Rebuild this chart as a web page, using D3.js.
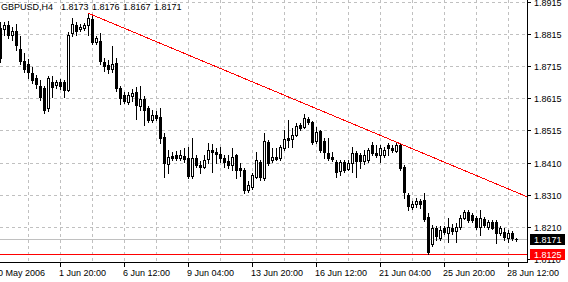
<!DOCTYPE html>
<html lang="en">
<head>
<meta charset="UTF-8">
<title>GBPUSD,H4</title>
<script src="https://cdn.jsdelivr.net/npm/d3@7"></script>
<style>
  body { margin: 0; background: #fff; }
  svg { display: block; font-family: "Liberation Sans", Arial, sans-serif; font-size: 9px; }
</style>
</head>
<body>
<div id="chart"></div>
<script>
// GBPUSD H4 bars, oldest first
const opens = [1.8834,1.8831,1.8843,1.8811,1.8824,1.8768,1.8730,1.8721,1.8693,1.8677,
  1.8652,1.8646,1.8583,1.8665,1.8655,1.8665,1.8665,1.8639,1.8818,1.8843,
  1.8831,1.8834,1.8843,1.8862,1.8790,1.8793,1.8727,1.8718,1.8705,1.8724,
  1.8646,1.8624,1.8602,1.8621,1.8633,1.8589,1.8611,1.8583,1.8545,1.8561,
  1.8555,1.8492,1.8408,1.8433,1.8436,1.8426,1.8433,1.8426,1.8370,1.8426,
  1.8404,1.8398,1.8423,1.8451,1.8445,1.8439,1.8426,1.8417,1.8404,1.8436,
  1.8395,1.8389,1.8326,1.8336,1.8367,1.8414,1.8364,1.8476,1.8420,1.8430,
  1.8426,1.8458,1.8489,1.8486,1.8498,1.8530,1.8523,1.8548,1.8539,1.8480,
  1.8511,1.8480,1.8442,1.8430,1.8414,1.8386,1.8414,1.8392,1.8411,1.8442,
  1.8436,1.8417,1.8420,1.8467,1.8442,1.8436,1.8436,1.8467,1.8458,1.8448,
  1.8467,1.8398,1.8311,1.8273,1.8282,1.8292,1.8295,1.8242,1.8157,1.8207,
  1.8176,1.8207,1.8191,1.8207,1.8198,1.8210,1.8238,1.8257,1.8248,1.8238,
  1.8210,1.8235,1.8210,1.8226,1.8226,1.8191,1.8195,1.8176,1.8191,1.8173]
const highs = [1.8853,1.8853,1.8856,1.8837,1.8846,1.8808,1.8755,1.8736,1.8711,1.8686,
  1.8671,1.8652,1.8683,1.8683,1.8671,1.8674,1.8671,1.8821,1.8865,1.8853,
  1.8846,1.8849,1.8880,1.8874,1.8808,1.8818,1.8740,1.8733,1.8777,1.8740,
  1.8652,1.8633,1.8633,1.8643,1.8649,1.8652,1.8621,1.8589,1.8577,1.8574,
  1.8583,1.8505,1.8451,1.8445,1.8448,1.8451,1.8458,1.8461,1.8489,1.8436,
  1.8417,1.8436,1.8474,1.8470,1.8458,1.8461,1.8436,1.8436,1.8458,1.8439,
  1.8411,1.8395,1.8354,1.8380,1.8445,1.8420,1.8505,1.8483,1.8458,1.8458,
  1.8467,1.8514,1.8545,1.8520,1.8536,1.8536,1.8564,1.8555,1.8542,1.8523,
  1.8514,1.8489,1.8489,1.8445,1.8420,1.8420,1.8420,1.8420,1.8461,1.8448,
  1.8442,1.8451,1.8458,1.8476,1.8467,1.8467,1.8461,1.8474,1.8467,1.8474,
  1.8474,1.8404,1.8317,1.8292,1.8301,1.8298,1.8317,1.8254,1.8216,1.8213,
  1.8213,1.8213,1.8238,1.8220,1.8223,1.8248,1.8263,1.8263,1.8254,1.8245,
  1.8263,1.8242,1.8232,1.8232,1.8232,1.8213,1.8207,1.8201,1.8198,1.8176]
const lows = [1.8727,1.8811,1.8802,1.8796,1.8765,1.8721,1.8696,1.8677,1.8662,1.8646,
  1.8608,1.8568,1.8574,1.8617,1.8646,1.8643,1.8617,1.8636,1.8808,1.8811,
  1.8824,1.8827,1.8811,1.8783,1.8783,1.8721,1.8699,1.8693,1.8696,1.8636,
  1.8595,1.8599,1.8595,1.8605,1.8548,1.8577,1.8530,1.8539,1.8539,1.8545,
  1.8474,1.8367,1.8380,1.8420,1.8420,1.8420,1.8414,1.8364,1.8364,1.8398,
  1.8380,1.8395,1.8411,1.8383,1.8411,1.8414,1.8398,1.8395,1.8389,1.8364,
  1.8370,1.8317,1.8320,1.8329,1.8364,1.8357,1.8357,1.8404,1.8414,1.8420,
  1.8420,1.8451,1.8461,1.8461,1.8495,1.8514,1.8520,1.8533,1.8470,1.8474,
  1.8445,1.8426,1.8420,1.8417,1.8367,1.8373,1.8383,1.8389,1.8383,1.8367,
  1.8395,1.8408,1.8414,1.8436,1.8430,1.8414,1.8430,1.8436,1.8445,1.8445,
  1.8389,1.8301,1.8263,1.8267,1.8273,1.8270,1.8229,1.8125,1.8151,1.8169,
  1.8169,1.8188,1.8163,1.8188,1.8163,1.8204,1.8235,1.8226,1.8226,1.8204,
  1.8185,1.8210,1.8204,1.8204,1.8160,1.8185,1.8169,1.8163,1.8169,1.8167]
const closes = [1.8740,1.8843,1.8811,1.8824,1.8780,1.8730,1.8705,1.8696,1.8671,1.8658,
  1.8617,1.8577,1.8677,1.8649,1.8665,1.8652,1.8639,1.8811,1.8846,1.8824,
  1.8837,1.8843,1.8865,1.8790,1.8802,1.8730,1.8715,1.8705,1.8721,1.8646,
  1.8614,1.8605,1.8624,1.8630,1.8592,1.8611,1.8577,1.8545,1.8561,1.8552,
  1.8489,1.8411,1.8430,1.8426,1.8426,1.8436,1.8423,1.8370,1.8426,1.8404,
  1.8398,1.8420,1.8451,1.8445,1.8439,1.8426,1.8414,1.8404,1.8430,1.8389,
  1.8389,1.8326,1.8342,1.8373,1.8420,1.8367,1.8480,1.8411,1.8430,1.8423,
  1.8461,1.8486,1.8483,1.8498,1.8527,1.8520,1.8552,1.8539,1.8476,1.8508,
  1.8451,1.8445,1.8426,1.8423,1.8383,1.8414,1.8389,1.8411,1.8442,1.8417,
  1.8417,1.8436,1.8451,1.8442,1.8436,1.8458,1.8451,1.8458,1.8451,1.8467,
  1.8395,1.8320,1.8276,1.8282,1.8292,1.8282,1.8235,1.8132,1.8207,1.8182,
  1.8201,1.8195,1.8210,1.8198,1.8210,1.8238,1.8257,1.8232,1.8232,1.8210,
  1.8238,1.8216,1.8226,1.8207,1.8191,1.8207,1.8179,1.8191,1.8176,1.8171]

const priceTicks = ["1.8915","1.8815","1.8715","1.8615","1.8515","1.8410","1.8310","1.8210","1.8110"]
const timeTickBars = [-1, 15, 31, 47, 63, 79, 95, 111, 127]
const timeTickLabels = ["30 May 2006","1 Jun 20:00","6 Jun 12:00","9 Jun 04:00","13 Jun 20:00",
  "16 Jun 12:00","21 Jun 04:00","25 Jun 20:00","28 Jun 12:00"]
const gridBars = d3.range(7, 130, 8)

const symbol = "GBPUSD,H4"
const lastBar = ["1.8173","1.8176","1.8167","1.8171"]
const bidPrice = 1.8171
const hLinePrice = 1.8125
// trend line anchors: [bar, price]
const trendA = [22, 1.8880]
const trendB = [100, 1.8471]

const w = 568
const h = 282
const plotW = 527
const plotH = 262

const svg = d3.select("#chart").append("svg")
  .attr("width", w).attr("height", h)
  .attr("shape-rendering", "crispEdges")

const xScale = d3.scaleLinear().domain([0, plotW / 4]).range([0, plotW])
const yScale = d3.scaleLinear().domain([1.8100, 1.8921]).range([plotH, 0])
const py = v => Math.round(yScale(v))

// grid
const grid = svg.append("g").attr("stroke", "#c0c0c0").attr("stroke-dasharray", "3,3")
grid.selectAll("line.v").data(gridBars).enter().append("line")
  .attr("x1", d => xScale(d) + 0.5).attr("x2", d => xScale(d) + 0.5)
  .attr("y1", 0).attr("y2", plotH)
grid.selectAll("line.h").data(priceTicks.slice(0, 8)).enter().append("line")
  .attr("x1", 0).attr("x2", plotW)
  .attr("y1", d => py(+d) + 0.5).attr("y2", d => py(+d) + 0.5)

// bid line
svg.append("line").attr("x1", 0).attr("x2", plotW)
  .attr("y1", py(bidPrice) + 0.5).attr("y2", py(bidPrice) + 0.5)
  .attr("stroke", "#c0c0c0")

// horizontal line object
svg.append("line").attr("x1", 0).attr("x2", plotW)
  .attr("y1", py(hLinePrice) + 0.5).attr("y2", py(hLinePrice) + 0.5)
  .attr("stroke", "#ff0000")

// candles
const bars = d3.range(opens.length)
const cg = svg.append("g")
cg.selectAll("line.wick").data(bars).enter().append("line")
  .attr("x1", i => xScale(i) + 0.5).attr("x2", i => xScale(i) + 0.5)
  .attr("y1", i => py(highs[i])).attr("y2", i => py(lows[i]) + 1)
  .attr("stroke", "#000")
cg.selectAll("rect.body").data(bars).enter().append("rect")
  .attr("x", i => closes[i] >= opens[i] ? xScale(i) - 0.5 : xScale(i) - 1)
  .attr("y", i => closes[i] >= opens[i] ? py(closes[i]) + 0.5 : py(opens[i]))
  .attr("width", i => closes[i] >= opens[i] ? 2 : 3)
  .attr("height", i => {
    const hh = Math.abs(py(closes[i]) - py(opens[i]))
    return closes[i] >= opens[i] ? Math.max(hh, 0) : hh + 1
  })
  .attr("fill", i => closes[i] >= opens[i] ? "#fff" : "#000")
  .attr("stroke", i => closes[i] >= opens[i] ? "#000" : "none")

// trend line (ray to the right edge)
const slope = (trendB[1] - trendA[1]) / (trendB[0] - trendA[0])
const endBar = plotW / 4
svg.append("line")
  .attr("x1", xScale(trendA[0])).attr("y1", yScale(trendA[1]))
  .attr("x2", xScale(endBar)).attr("y2", yScale(trendA[1] + slope * (endBar - trendA[0])))
  .attr("stroke", "#ff0000")

// axes
svg.append("line").attr("x1", plotW + 0.5).attr("x2", plotW + 0.5).attr("y1", 0).attr("y2", plotH + 1).attr("stroke", "#000")
svg.append("line").attr("x1", 0).attr("x2", plotW + 1).attr("y1", plotH + 0.5).attr("y2", plotH + 0.5).attr("stroke", "#000")

const yAx = svg.append("g")
yAx.selectAll("line").data(priceTicks).enter().append("line")
  .attr("x1", plotW).attr("x2", plotW + 4)
  .attr("y1", d => py(+d) + 0.5).attr("y2", d => py(+d) + 0.5)
  .attr("stroke", "#000")
yAx.selectAll("text").data(priceTicks).enter().append("text")
  .attr("x", plotW + 7).attr("y", d => py(+d) + 3.5)
  .attr("fill", "#000").text(d => d)

const xAx = svg.append("g")
xAx.selectAll("line").data(timeTickBars).enter().append("line")
  .attr("x1", d => xScale(d) + 0.5).attr("x2", d => xScale(d) + 0.5)
  .attr("y1", plotH).attr("y2", plotH + 5)
  .attr("stroke", "#000")
xAx.selectAll("text").data(timeTickBars).enter().append("text")
  .attr("x", (d, i) => i === 0 ? xScale(d) - 3 : xScale(d) - 1)
  .attr("y", 276)
  .attr("fill", "#000")
  .text((d, i) => timeTickLabels[i])

// price label boxes
function priceBox(price, bg) {
  const yc = yScale(price)
  svg.append("rect").attr("x", plotW + 3).attr("y", Math.round(yc) - 5)
    .attr("width", 35).attr("height", 11).attr("fill", bg)
  svg.append("text").attr("x", plotW + 7).attr("y", Math.round(yc) + 3.5)
    .attr("fill", "#fff").text(price.toFixed(4))
}
priceBox(bidPrice, "#000")
priceBox(hLinePrice, "#ff0000")

// header
svg.append("text").attr("x", 1).attr("y", 10).attr("fill", "#000").text(symbol)
svg.selectAll("text.ohlc").data(lastBar).enter().append("text")
  .attr("x", (d, i) => 61 + i * 31).attr("y", 10).attr("fill", "#000").text(d => d)
</script>
</body>
</html>
